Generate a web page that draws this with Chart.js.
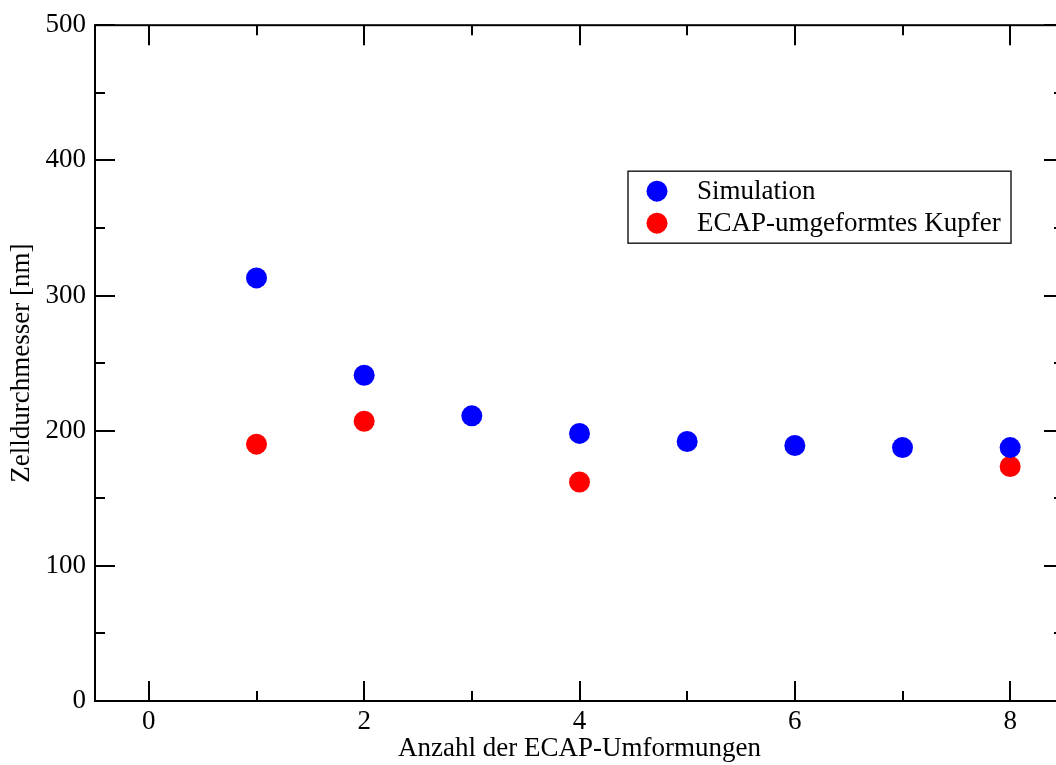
<!DOCTYPE html>
<html>
<head>
<meta charset="utf-8">
<script src="https://cdn.jsdelivr.net/npm/chart.js@4.4.0/dist/chart.umd.min.js"></script>
<style>
  html, body { margin: 0; padding: 0; background: #fff; overflow: hidden; }
</style>
</head>
<body>
<canvas id="zellChart" width="1076" height="765"></canvas>
<script>
// Anzahl der Umformungen und Zelldurchmesser in nm
const umformungen = [1, 2, 3, 4, 5, 6, 7, 8];
const simulation = [313, 241, 211, 198, 192, 189, 187.5, 187.5];
const kupferUmformungen = [1, 2, 4, 8];
const kupfer = [190, 207, 162, 173.5];

const xTicks = [0, 2, 4, 6, 8];
const xMinorTicks = [1, 3, 5, 7];
const yTicks = [0, 100, 200, 300, 400, 500];
const yMinorTicks = [50, 150, 250, 350, 450];

const serif = "'Liberation Serif', 'Times New Roman', serif";

// Rahmen mit nach innen zeigenden Strichen auf allen vier Seiten
const rahmen = {
    id: 'rahmen',
    beforeDatasetsDraw(chart) {
        const { ctx, chartArea: a, scales: { x, y } } = chart;
        ctx.save();
        ctx.strokeStyle = '#000';
        ctx.lineWidth = 2;
        ctx.strokeRect(a.left, a.top, a.right - a.left, a.bottom - a.top);
        ctx.beginPath();
        const xStrich = (v, len) => {
            const px = Math.round(x.getPixelForValue(v));
            ctx.moveTo(px, a.bottom); ctx.lineTo(px, a.bottom - len);
            ctx.moveTo(px, a.top); ctx.lineTo(px, a.top + len);
        };
        const yStrich = (v, len) => {
            const py = Math.round(y.getPixelForValue(v));
            ctx.moveTo(a.left, py); ctx.lineTo(a.left + len, py);
            ctx.moveTo(a.right, py); ctx.lineTo(a.right - len, py);
        };
        xTicks.forEach(v => xStrich(v, 20));
        xMinorTicks.forEach(v => xStrich(v, 10));
        yTicks.forEach(v => yStrich(v, 20));
        yMinorTicks.forEach(v => yStrich(v, 10));
        ctx.stroke();
        ctx.restore();
    }
};

// Legende im Diagramm, oben rechts
const legende = {
    id: 'legende',
    afterDraw(chart) {
        const { ctx, chartArea: a } = chart;
        const bx = a.right - 436, by = a.top + 146, bw = 383, bh = 72;
        ctx.save();
        ctx.strokeStyle = '#222';
        ctx.lineWidth = 1.5;
        ctx.strokeRect(bx, by, bw, bh);
        ctx.font = '27px ' + serif;
        ctx.textBaseline = 'middle';
        chart.data.datasets.forEach((ds, i) => {
            const cy = by + 20 + i * 32;
            ctx.fillStyle = ds.backgroundColor;
            ctx.beginPath();
            ctx.arc(bx + 29, cy, 10.5, 0, Math.PI * 2);
            ctx.fill();
            ctx.fillStyle = '#000';
            ctx.fillText(ds.label, bx + 69, cy + 1);
        });
        ctx.restore();
    }
};

new Chart(document.getElementById('zellChart'), {
    type: 'scatter',
    data: {
        datasets: [{
            label: 'Simulation',
            data: umformungen.map((n, i) => ({ x: n, y: simulation[i] })),
            backgroundColor: '#0000ff',
            borderWidth: 0,
            pointRadius: 10.5,
            pointHoverRadius: 10.5
        }, {
            label: 'ECAP-umgeformtes Kupfer',
            data: kupferUmformungen.map((n, i) => ({ x: n, y: kupfer[i] })),
            backgroundColor: '#ff0000',
            borderWidth: 0,
            pointRadius: 10.5,
            pointHoverRadius: 10.5
        }]
    },
    options: {
        responsive: false,
        animation: false,
        layout: { padding: { top: 22, right: 12, left: 0, bottom: 0 } },
        plugins: {
            legend: { display: false },
            tooltip: { enabled: false }
        },
        scales: {
            x: {
                type: 'linear',
                min: -0.5,
                max: 8.5,
                grid: { display: false, drawTicks: false },
                border: { display: false },
                afterBuildTicks: s => { s.ticks = xTicks.map(v => ({ value: v })); },
                afterFit: s => { s.height = 64; },
                ticks: {
                    color: '#000',
                    padding: 5,
                    maxRotation: 0,
                    font: { family: serif, size: 27 }
                },
                title: {
                    display: true,
                    text: 'Anzahl der ECAP-Umformungen',
                    color: '#000',
                    padding: { bottom: 0, top: 0 },
                    font: { family: serif, size: 27 }
                }
            },
            y: {
                min: 0,
                max: 500,
                grid: { display: false, drawTicks: false },
                border: { display: false },
                afterBuildTicks: s => { s.ticks = yTicks.map(v => ({ value: v })); },
                afterFit: s => { s.width = 95; },
                ticks: {
                    color: '#000',
                    padding: 9,
                    font: { family: serif, size: 27 }
                },
                title: {
                    display: true,
                    text: 'Zelldurchmesser [nm]',
                    color: '#000',
                    padding: { top: 6, bottom: 0 },
                    font: { family: serif, size: 27 }
                }
            }
        }
    },
    plugins: [rahmen, legende]
});
</script>
</body>
</html>
